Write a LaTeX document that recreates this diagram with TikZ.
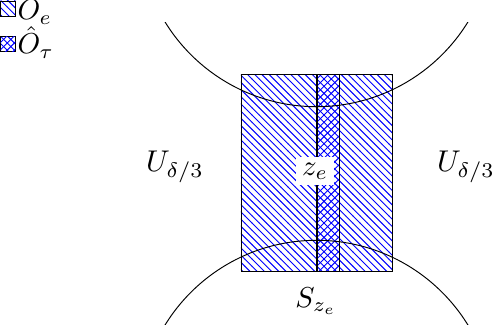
\documentclass[tikz,border=0pt]{standalone}
\usetikzlibrary{patterns}
\begin{document}
\begin{tikzpicture}[x=0.41667pt,y=0.41667pt,
  hatchA/.style={pattern=north west lines,pattern color=blue},
  hatchB/.style={pattern=north east lines,pattern color=blue},
  legbox/.style={draw,hatchA,minimum size=6.25pt,inner sep=0pt},
  txt/.style={scale=1.2},
  lbl/.style={scale=1.2,inner sep=0pt,anchor=base west}]
\useasboundingbox (0,0) rectangle (492,331);
% main rectangle O_e with strip \hat O_tau
\path[hatchA] (241,60) rectangle (392.3,256.3);
\path[hatchB] (317,60) rectangle (339.5,256.3);
\draw (241,60) rectangle (392.3,256.3);
\draw (339.5,60) -- (339.5,256.3);
% arcs
\begin{scope}
  \clip (0,0) rectangle (492,308.3);
  \draw (316.5,402) circle[radius=74.04pt];
\end{scope}
\begin{scope}
  \clip (0,6.7) rectangle (492,331);
  \draw (316.5,-87) circle[radius=74.04pt];
\end{scope}
% thick line
\coordinate (lb) at (317,60);
\coordinate (lt) at (317,256.3);
\draw[line width=1.2pt] (lb) -- (lt);
\node[txt,fill=white,inner sep=2pt] (ze) at (315,160) {$z_e$};
\node[scale=1.25] (ul) at (175,164) {$U_{\delta/3}$};
\node[scale=1.25] (ur) at (466,164) {$U_{\delta/3}$};
\node[txt] (s) at (316,30) {$S_{z_e}$};
% legend
\node[legbox] (l1) at (8,322.5) {};
\node[lbl] (t1) at (17,311) {$O_e$};
\node[legbox,postaction={hatchB}] (l2) at (8,287) {};
\node[lbl] (t2) at (17,277) {$\hat O_\tau$};
\end{tikzpicture}
\end{document}
